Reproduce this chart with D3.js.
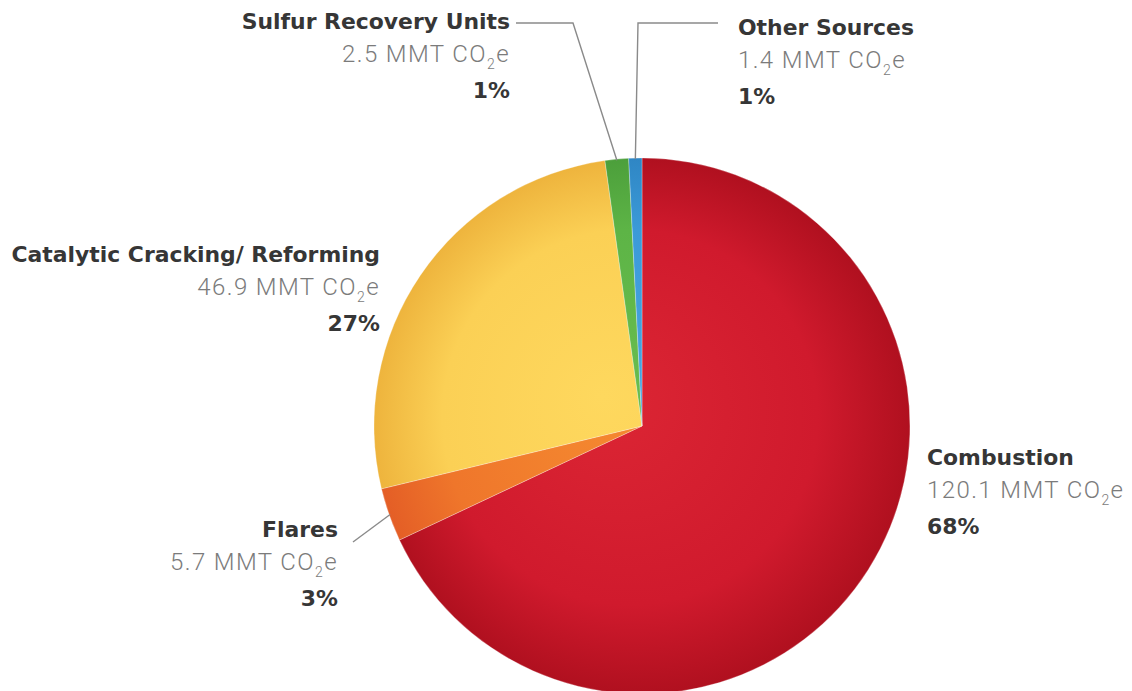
<!DOCTYPE html>
<html><head><meta charset="utf-8">
<script src="https://cdn.jsdelivr.net/npm/d3@7"></script>
<style>
html,body{margin:0;padding:0;background:#fff;}
svg{display:block;}
</style></head>
<body>
<svg id="chart" width="1132" height="691"></svg>
<script>
// ---- data ----
const categories = ["Combustion", "Flares", "Catalytic Cracking/ Reforming", "Sulfur Recovery Units", "Other Sources"];
const values = [120.1, 5.7, 46.9, 2.5, 1.4];
const valueLabels = ["120.1", "5.7", "46.9", "2.5", "1.4"];
const percentLabels = ["68%", "3%", "27%", "1%", "1%"];

// ---- styles / layout ----
const colors = [
  {c0:"#dc2634", c1:"#d01a2d", c2:"#b0101f"},
  {c0:"#f58a30", c1:"#ef762b", c2:"#e45e26"},
  {c0:"#fed85e", c1:"#fbd055", c2:"#eeb43d"},
  {c0:"#69bd4f", c1:"#5db446", c2:"#4c9f3b"},
  {c0:"#4aa6e0", c1:"#3b9ad8", c2:"#2f86c4"}
];
const labelLayout = [
  {x:927, y:465, anchor:"start", leader:null},
  {x:338, y:537, anchor:"end", leader:{start:[353,542]}},
  {x:380, y:262, anchor:"end", leader:null},
  {x:510, y:29, anchor:"end", leader:{start:[516,23], bend:[573,23]}},
  {x:738, y:35, anchor:"start", leader:{start:[718,23], bend:[638,23]}}
];
const cx = 642, cy = 426, R = 268;

const svg = d3.select("#chart");
const defs = svg.append("defs");
colors.forEach((c,i)=>{
  const g = defs.append("radialGradient").attr("id","g"+i)
    .attr("gradientUnits","userSpaceOnUse")
    .attr("cx",0).attr("cy",0).attr("r",R).attr("fx",-40).attr("fy",-30);
  g.append("stop").attr("offset","0").attr("stop-color",c.c0);
  g.append("stop").attr("offset","0.7").attr("stop-color",c.c1);
  g.append("stop").attr("offset","1").attr("stop-color",c.c2);
});

const pie = d3.pie().sort(null).value(d=>d)(values);
const arc = d3.arc().innerRadius(0).outerRadius(R);

const gp = svg.append("g").attr("transform",`translate(${cx},${cy})`);
gp.selectAll("path").data(pie).join("path")
  .attr("d",arc)
  .attr("fill",(d,i)=>`url(#g${i})`)
  .attr("stroke","rgba(255,255,255,0.35)")
  .attr("stroke-width",0.8);

// leader lines
pie.forEach((d,i)=>{
  const L = labelLayout[i].leader;
  if(!L) return;
  const a = (d.startAngle+d.endAngle)/2;
  const ex = cx + (R-1)*Math.sin(a), ey = cy - (R-1)*Math.cos(a);
  const pts = [L.start];
  if(L.bend) pts.push(L.bend);
  pts.push([ex,ey]);
  svg.append("path").attr("d",d3.line()(pts))
    .attr("fill","none").attr("stroke","#8a8a8a").attr("stroke-width",1.4);
});

// labels
categories.forEach((name,i)=>{
  const L = labelLayout[i];
  const t = svg.append("g");
  t.append("text").attr("x",L.x).attr("y",L.y).attr("text-anchor",L.anchor)
    .attr("font-family","'DejaVu Sans', sans-serif")
    .attr("font-size",21.9).attr("font-weight",700).attr("fill","#363636").text(name);
  const v = t.append("text").attr("x",L.x).attr("y",L.y+33).attr("text-anchor",L.anchor)
    .attr("font-family","Roboto, sans-serif").attr("letter-spacing",1.4)
    .attr("font-size",24).attr("font-weight",300).attr("fill","#7b7b7b");
  v.append("tspan").text(valueLabels[i]+" MMT CO");
  v.append("tspan").attr("font-size",14).attr("dy",7).text("2");
  v.append("tspan").attr("dy",-7).text("e");
  t.append("text").attr("x",L.x).attr("y",L.y+69).attr("text-anchor",L.anchor)
    .attr("font-family","'DejaVu Sans', sans-serif")
    .attr("font-size",21.9).attr("font-weight",700).attr("fill","#363636").text(percentLabels[i]);
});
</script>
</body></html>
